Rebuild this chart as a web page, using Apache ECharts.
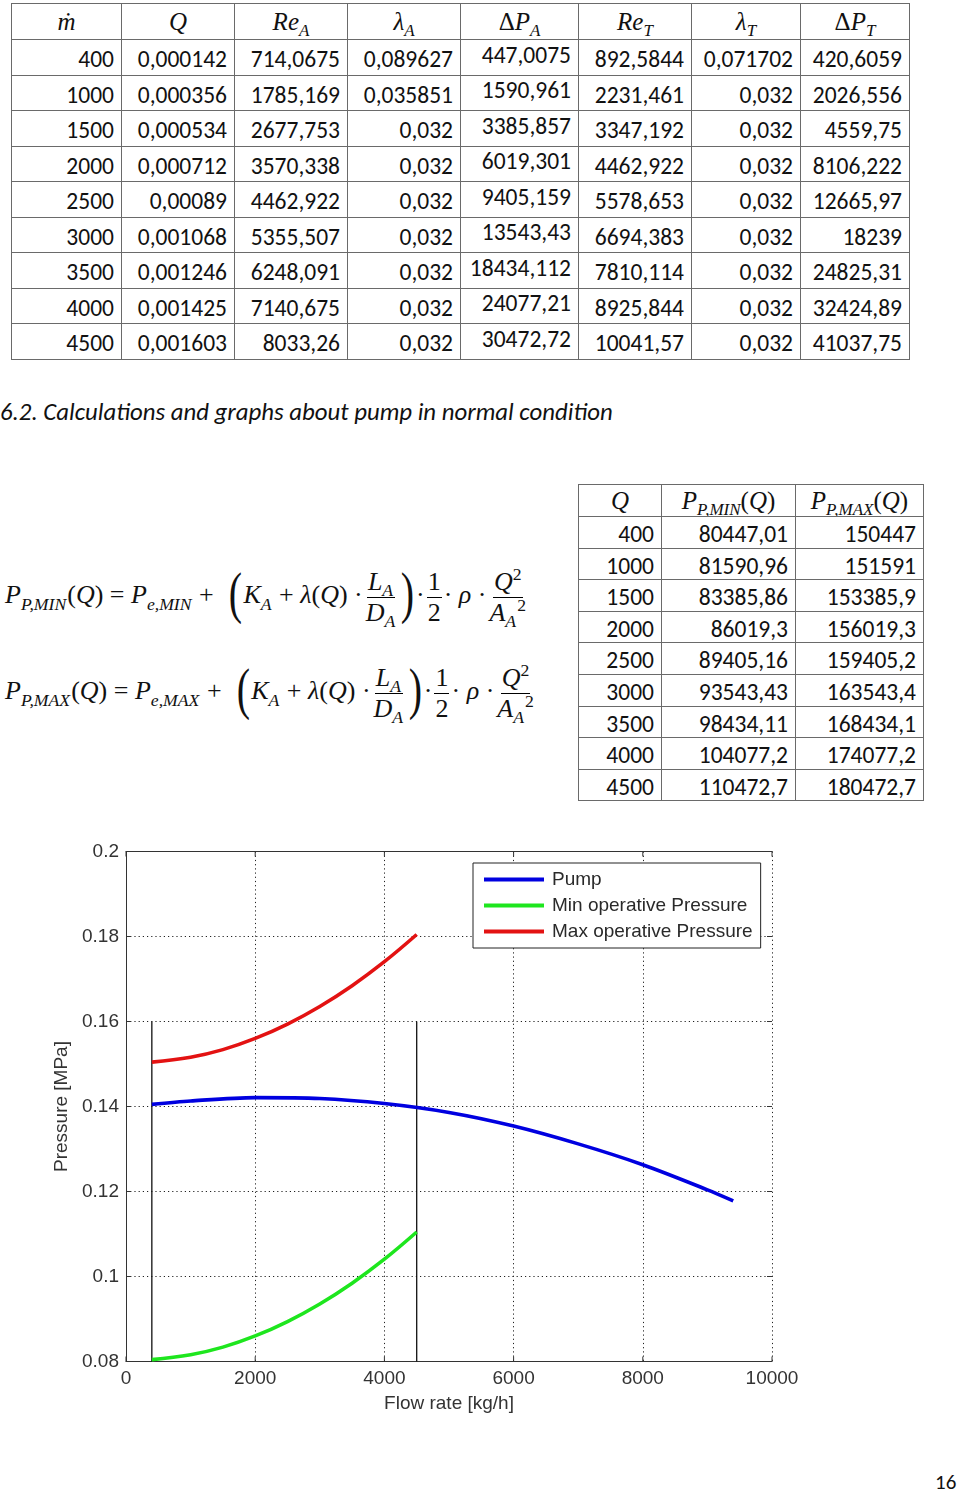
<!DOCTYPE html>
<html><head><meta charset="utf-8">
<script src="https://cdn.jsdelivr.net/npm/echarts@6/dist/echarts.min.js"></script>
<style>
html,body{margin:0;padding:0;background:#fff;}
body{width:960px;height:1492px;position:relative;overflow:hidden;font-family:Carlito,Calibri,Lato,"Open Sans",sans-serif;color:#111;}
table{border-collapse:collapse;position:absolute;table-layout:fixed;}
td,th{border:1px solid #6a6a6a;padding:5px 7px 0 0;text-align:right;font-size:23.5px;white-space:nowrap;overflow:hidden;box-sizing:border-box;line-height:1;}
th{text-align:center;font-weight:normal;font-family:"Liberation Serif",serif;font-size:25px;padding:0;}
i{font-style:italic;}
sub{font-style:italic;font-size:0.68em;vertical-align:-0.35em;line-height:0;}
sup{font-size:0.68em;vertical-align:0.55em;line-height:0;}
td.shift{padding:0 7px 4px 0;}
#heading{position:absolute;left:0;top:396px;font-style:italic;font-size:24.8px;}
.f{position:absolute;left:5px;font-family:"Liberation Serif",serif;font-size:26px;white-space:nowrap;line-height:1;}
.f sub{margin-right:1px;}
.frac{display:inline-flex;flex-direction:column;align-items:center;vertical-align:middle;margin:0 2px;}
.frac>span{display:block;line-height:1.15;padding:0 1px;}
.frac>span:first-child{border-bottom:1px solid #000;}
.big{font-size:50px;font-weight:100;display:inline-block;transform:scale(0.8,1.15);vertical-align:-6px;}
#pg{position:absolute;left:935px;top:1469px;font-size:21px;}
#chart{position:absolute;left:0;top:830px;width:960px;height:620px;}
</style></head>
<body>
<table id="t1"></table>
<div id="heading">6.2. Calculations and graphs about pump in normal condition</div>
<div class="f" id="f1"></div>
<div class="f" id="f2"></div>
<table id="t2"></table>
<div id="chart"></div>
<div id="pg">16</div>
<script>
// ---------- data ----------
const massFlow = [400,1000,1500,2000,2500,3000,3500,4000,4500];
const volFlow = [0.000142,0.000356,0.000534,0.000712,0.00089,0.001068,0.001246,0.001425,0.001603];
const reA = [714.0675,1785.169,2677.753,3570.338,4462.922,5355.507,6248.091,7140.675,8033.26];
const lambdaA = [0.089627,0.035851,0.032,0.032,0.032,0.032,0.032,0.032,0.032];
const dPA = [447.0075,1590.961,3385.857,6019.301,9405.159,13543.43,18434.112,24077.21,30472.72];
const reT = [892.5844,2231.461,3347.192,4462.922,5578.653,6694.383,7810.114,8925.844,10041.57];
const lambdaT = [0.071702,0.032,0.032,0.032,0.032,0.032,0.032,0.032,0.032];
const dPT = [420.6059,2026.556,4559.75,8106.222,12665.97,18239,24825.31,32424.89,41037.75];
const topHeaders = ['<i>ṁ</i>','<i>Q</i>','<i>Re</i><sub>A</sub>','<i>λ</i><sub>A</sub>','Δ<i>P</i><sub>A</sub>','<i>Re</i><sub>T</sub>','<i>λ</i><sub>T</sub>','Δ<i>P</i><sub>T</sub>'];

const pQ = [400,1000,1500,2000,2500,3000,3500,4000,4500];
const pMin = [80447.01,81590.96,83385.86,86019.3,89405.16,93543.43,98434.11,104077.2,110472.7];
const pMax = [150447,151591,153385.9,156019.3,159405.2,163543.4,168434.1,174077.2,180472.7];
const rightHeaders = ['<i>Q</i>','<i>P</i><sub>P,MIN</sub>(<i>Q</i>)','<i>P</i><sub>P,MAX</sub>(<i>Q</i>)'];

const pumpQ = [400,1000,2000,3000,4000,5000,6000,7000,8000,9000,9400];
const pumpP = [0.1405,0.1413,0.1421,0.1419,0.1407,0.1386,0.1354,0.1312,0.1263,0.1204,0.1178];
const boundaryQ = [400,4500];
const boundaryP = [0.08,0.16];
const seriesNames = ['Pump','Min operative Pressure','Max operative Pressure'];
const xTicks = {min:0,max:10000,step:2000};
const yTicks = {min:0.08,max:0.2,step:0.02};
const xTickValues = [0,2000,4000,6000,8000,10000];
const yTickValues = [0.08,0.1,0.12,0.14,0.16,0.18,0.2];

// ---------- tables ----------
const fmt = v => String(v).replace('.', ',');
function buildTable(el, left, top, widths, headH, rowH, headers, cols, shiftCol){
  el.style.left = left+'px'; el.style.top = top+'px';
  el.style.width = widths.reduce((a,b)=>a+b,0)+'px';
  let h = '<colgroup>' + widths.map(w=>'<col style="width:'+w+'px">').join('') + '</colgroup>';
  h += '<tr style="height:'+headH+'px">' + headers.map(x=>'<th>'+x+'</th>').join('') + '</tr>';
  for(let r=0;r<cols[0].length;r++){
    h += '<tr style="height:'+rowH+'px">' + cols.map((c,ci)=>'<td'+(ci===shiftCol?' class="shift"':'')+'>'+fmt(c[r])+'</td>').join('') + '</tr>';
  }
  el.innerHTML = h;
}
buildTable(document.getElementById('t1'), 11, 3, [110,113,113,113,118,113,109,109], 36, 35.5, topHeaders,
  [massFlow,volFlow,reA,lambdaA,dPA,reT,lambdaT,dPT], 4);
buildTable(document.getElementById('t2'), 578, 484, [83,134,128], 32, 31.6, rightHeaders, [pQ,pMin,pMax], -1);

// ---------- formulas ----------
function formula(kind){
  const fr = (a,b)=>'<span class="frac"><span>'+a+'</span><span>'+b+'</span></span>';
  return '<i>P</i><sub>P,'+kind+'</sub>(<i>Q</i>) = <i>P</i><sub>e,'+kind+'</sub> + &nbsp;<span class="big">(</span><i>K</i><sub>A</sub> + <i>λ</i>(<i>Q</i>) ·'
   + fr('<i>L</i><sub>A</sub>','<i>D</i><sub>A</sub>') + '<span class="big">)</span>·' + fr('1','2') + '· <i>ρ</i> ·'
   + fr('<i>Q</i><sup>2</sup>','<i>A</i><sub>A</sub><sup>2</sup>');
}
const f1 = document.getElementById('f1'); f1.innerHTML = formula('MIN'); f1.style.top = '567px';
const f2 = document.getElementById('f2'); f2.innerHTML = formula('MAX'); f2.style.top = '663px';

// ---------- chart ----------
const chart = echarts.init(document.getElementById('chart'), null, {renderer:'canvas'});
const axisColor = '#333';
const labelFont = {fontFamily:'"Liberation Sans", Arial, sans-serif', fontSize:19, color:'#333'};
const colors = ['#0000e0','#1ee61e','#e31212'];
const toMPa = v => v/1e6;
const TICK_LEN = 5;
const series = [];
boundaryQ.forEach(q=>{
  series.push({type:'line', data: boundaryP.map(p=>[q,p]), symbol:'none', silent:true,
    lineStyle:{color:'#111', width:1.3}, z:1});
});
series.push({name:seriesNames[0], type:'line', data: pumpQ.map((q,i)=>[q,pumpP[i]]), smooth:0.3, symbol:'none',
  lineStyle:{color:colors[0], width:3.6}, itemStyle:{color:colors[0]}, z:3});
series.push({name:seriesNames[1], type:'line', data: pQ.map((q,i)=>[q,toMPa(pMin[i])]), smooth:0.4, symbol:'none',
  lineStyle:{color:colors[1], width:3.6}, itemStyle:{color:colors[1]}, z:3});
series.push({name:seriesNames[2], type:'line', data: pQ.map((q,i)=>[q,toMPa(pMax[i])]), smooth:0.4, symbol:'none',
  lineStyle:{color:colors[2], width:3.6}, itemStyle:{color:colors[2]}, z:3});
// inward tick marks on all four sides (MATLAB style), placed through the axes' scales
const tickData = xTickValues.map(v=>[v, yTicks.min, 0]).concat(yTickValues.map(v=>[xTicks.min, v, 1]));
series.push({type:'custom', silent:true, clip:false, z:4, data:tickData,
  renderItem:function(params, api){
    const st = {stroke:axisColor, lineWidth:1};
    const v0 = api.value(0), v1 = api.value(1);
    if(api.value(2) === 0){
      const b = api.coord([v0, yTicks.min]), t = api.coord([v0, yTicks.max]);
      return {type:'group', children:[
        {type:'line', shape:{x1:b[0],y1:b[1],x2:b[0],y2:b[1]-TICK_LEN}, style:st},
        {type:'line', shape:{x1:t[0],y1:t[1],x2:t[0],y2:t[1]+TICK_LEN}, style:st}]};
    }
    const l = api.coord([xTicks.min, v1]), r = api.coord([xTicks.max, v1]);
    return {type:'group', children:[
      {type:'line', shape:{x1:l[0],y1:l[1],x2:l[0]+TICK_LEN,y2:l[1]}, style:st},
      {type:'line', shape:{x1:r[0],y1:r[1],x2:r[0]-TICK_LEN,y2:r[1]}, style:st}]};
  }});

const gridLine = {show:true, lineStyle:{color:'#222', type:[1.2,3], width:1}};
const line = {show:true, lineStyle:{color:axisColor, width:1}};
const xBase = {type:'value', min:xTicks.min, max:xTicks.max, interval:xTicks.step};
const yBase = {type:'value', min:yTicks.min, max:yTicks.max, interval:yTicks.step};
chart.setOption({
  animation:false,
  grid:{left:126, top:21.5, width:646, height:510},
  legend:{data:seriesNames, orient:'vertical', left:473, top:33, icon:'rect', itemWidth:60, itemHeight:4, itemGap:7,
    padding:[7,8,7,11], borderColor:'#222', borderWidth:1, backgroundColor:'#fff',
    textStyle:Object.assign({}, labelFont, {color:'#2a2a2a', padding:[0,0,0,3]})},
  xAxis:[
    Object.assign({}, xBase, {position:'bottom',
     name:'Flow rate [kg/h]', nameLocation:'middle', nameGap:33, nameTextStyle:labelFont,
     axisLine:line, axisTick:{show:false},
     axisLabel:Object.assign({margin:8, formatter:v=>String(v)}, labelFont),
     splitLine:gridLine}),
    Object.assign({}, xBase, {position:'top', axisLine:line, axisTick:{show:false},
     axisLabel:{show:false}, splitLine:{show:false}})
  ],
  yAxis:[
    Object.assign({}, yBase, {position:'left',
     name:'Pressure [MPa]', nameLocation:'middle', nameGap:55, nameTextStyle:labelFont,
     axisLine:line, axisTick:{show:false},
     axisLabel:Object.assign({margin:7, formatter:v=>String(+v.toFixed(2))}, labelFont),
     splitLine:gridLine}),
    Object.assign({}, yBase, {position:'right', axisLine:line, axisTick:{show:false},
     axisLabel:{show:false}, splitLine:{show:false}})
  ],
  series: series
});
</script>
</body></html>
